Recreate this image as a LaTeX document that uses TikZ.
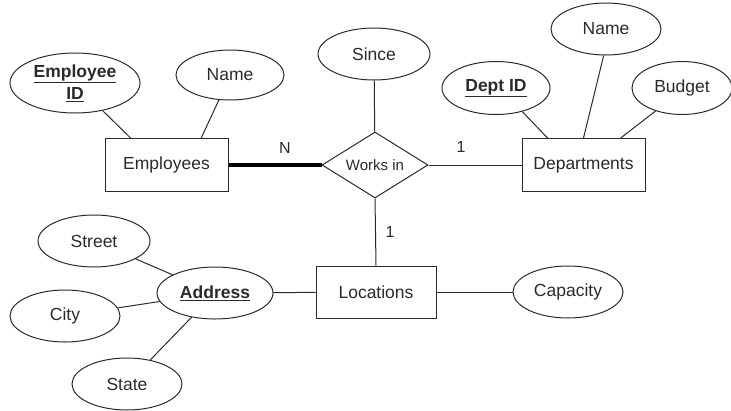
\documentclass[tikz,border=0pt]{standalone}
\usepackage{fontspec}
\setmainfont{Liberation Sans}
\usetikzlibrary{shapes.geometric,calc}
\definecolor{ink}{HTML}{2A2A2A}
\begin{document}
\begin{tikzpicture}[x=1pt,y=-1pt,
  every node/.style={text=ink,font=\fontsize{17.5}{20}\selectfont},
  entity/.style={draw=ink,line width=1pt,rectangle,minimum width=123pt,minimum height=53pt,inner sep=0pt},
  attr/.style={draw=ink,line width=1pt,ellipse,inner sep=0pt},
  rel/.style={draw=ink,line width=1pt,diamond,aspect=1.6,minimum width=106pt,minimum height=66pt,inner sep=0pt,font=\fontsize{15}{18}\selectfont},
  conn/.style={draw=ink,line width=1pt},
  card/.style={font=\fontsize{16}{18}\selectfont,inner sep=0pt}]
\useasboundingbox (0,0) rectangle (731,410);
% entities
\node[entity] (emp) at (166.5,165) {Employees};
\node[entity] (dept) at (583.5,165) {Departments};
\node[entity,minimum width=120pt,minimum height=52pt] (loc) at (376,292) {Locations};
% relationship
\node[rel] (works) at (375,165) {Works in};
% attributes
\node[attr,minimum width=130pt,minimum height=60pt,align=center,font=\fontsize{17.5}{21}\selectfont\bfseries] (eid) at (75,83) {\underline{Employee}\\[1pt]\underline{ID}};
\node[attr,minimum width=108pt,minimum height=50pt] (ename) at (230,75) {Name};
\node[attr,minimum width=112pt,minimum height=52pt] (since) at (374,54) {Since};
\node[attr,minimum width=108pt,minimum height=53pt,font=\fontsize{17.5}{20}\selectfont\bfseries] (did) at (496,88) {\underline{Dept ID}};
\node[attr,minimum width=110pt,minimum height=52pt] (dname) at (606,29) {Name};
\node[attr,minimum width=100pt,minimum height=53pt] (budget) at (682,88) {Budget};
\node[attr,minimum width=112pt,minimum height=52pt] (street) at (94,241) {Street};
\node[attr,minimum width=116pt,minimum height=52pt,font=\fontsize{17.5}{20}\selectfont\bfseries] (addr) at (215,293) {\underline{Address}};
\node[attr,minimum width=110pt,minimum height=52pt] (city) at (65,316) {City};
\node[attr,minimum width=110pt,minimum height=52pt] (state) at (127,384) {State};
\node[attr,minimum width=110pt,minimum height=52pt] (cap) at (568,292) {Capacity};
% connectors
\draw[conn] (eid.-45) -- ($(emp.north west)!0.21!(emp.north east)$);
\draw[conn] (ename.-114) -- ($(emp.north west)!0.78!(emp.north east)$);
\draw[draw=black,line width=4pt] (emp.east) -- (works.west);
\draw[conn] (since) -- (works);
\draw[conn] (works.east) -- (dept.west);
\draw[conn] (did.-42) -- ($(dept.north west)!0.21!(dept.north east)$);
\draw[conn] (dname.-95) -- (dept.north);
\draw[conn] (budget.-139) -- ($(dept.north west)!0.8!(dept.north east)$);
\draw[conn] (works.south) -- (loc.north);
\draw[conn] (loc) -- (cap);
\draw[conn] (addr) -- (loc);
\draw[conn] (street) -- (addr);
\draw[conn] (city) -- (addr);
\draw[conn] (state) -- (addr);
% cardinalities
\node[card] (cn) at (285,148) {N};
\node[card] (c1) at (461,147) {1};
\node[card] (c2) at (390,232) {1};
\end{tikzpicture}
\end{document}
